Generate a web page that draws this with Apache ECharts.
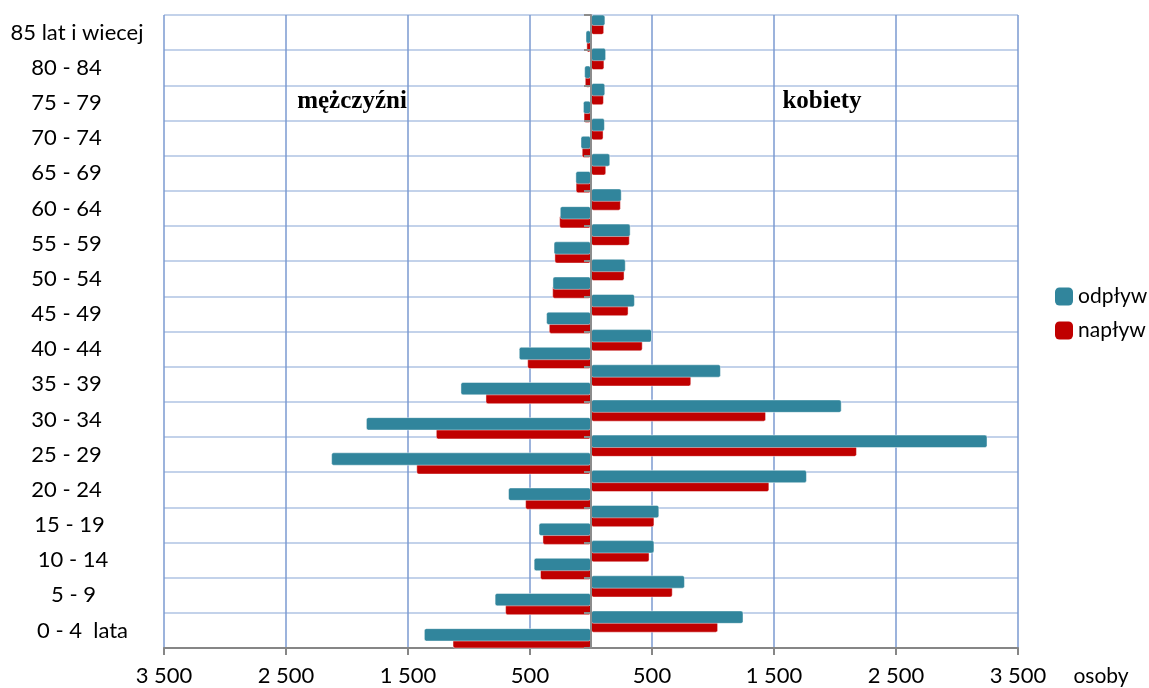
<!DOCTYPE html>
<html><head><meta charset="utf-8">
<script src="https://cdn.jsdelivr.net/npm/echarts@6/dist/echarts.min.js"></script>
<style>html,body{margin:0;padding:0;background:#fff}#c{width:1149px;height:688px}</style>
</head><body><div id="c"></div>
<script>
// Age groups, bottom to top
const categories = ['0 - 4  lata','5 - 9','10 - 14','15 - 19','20 - 24','25 - 29','30 - 34','35 - 39','40 - 44','45 - 49','50 - 54','55 - 59','60 - 64','65 - 69','70 - 74','75 - 79','80 - 84','85 lat i wiecej'];
// kobiety (right side)
const womenOutflow = [1250, 770, 520, 560, 1770, 3250, 2055, 1065, 500, 360, 285, 325, 252, 158, 114, 117, 124, 118];
const womenInflow  = [1042, 670, 480, 520, 1462, 2180, 1435, 822, 424, 308, 275, 318, 245, 125, 103, 106, 110, 108];
// mężczyźni (left side, shown as negative)
const menOutflow   = [1370, 790, 470, 430, 680, 2130, 1845, 1070, 592, 368, 316, 307, 256, 128, 86, 66, 56, 45];
const menInflow    = [1135, 704, 418, 398, 540, 1432, 1272, 865, 523, 346, 318, 300, 261, 126, 76, 61, 51, 38];
const xTickLabels  = ['3 500','2 500','1 500','500','500','1 500','2 500','3 500'];
const legendNames  = ['odpływ','napływ'];

// label alignment style keys (style only)
const labelStyleKeys = ['L11','R7','R8','R15','R21','R21','R21','R21','R21','R21','R21','R21','R21','R21','R21','R21','R21','N'];
const LABEL_FONT = {fontFamily: 'Lato', fontSize: 22, color: '#000'};
function rs(pad) { return Object.assign({padding: pad}, LABEL_FONT); }
const labelRich = {N: rs([0,0,0,0]), L11: rs([0,0,0,11]), R7: rs([0,7,0,0]), R8: rs([0,8,0,0]), R15: rs([0,15,0,0]), R21: rs([0,21,0,0])};

const TEAL = '#31859C', RED = '#C00000';
const chart = echarts.init(document.getElementById('c'), null, {renderer:'canvas'});

function barSeries(name, data, color, z) {
  return {
    name: name, type: 'bar', xAxisIndex: 0, yAxisIndex: 0, data: data,
    barWidth: 13.4, barGap: '-34%', z: z,
    itemStyle: {color: color, borderRadius: 2, borderColor: 'rgba(255,255,255,0.45)', borderWidth: 1},
    emphasis: {disabled: true}
  };
}

chart.setOption({
  animation: false,
  grid: {left: 164, right: 131, top: 15, bottom: 40, containLabel: false, outerBoundsMode: 'none'},
  legend: {
    data: legendNames, orient: 'vertical', left: 1050, top: 281,
    itemWidth: 18, itemHeight: 18, itemGap: 13, icon: 'roundRect',
    itemStyle: {borderWidth: 0},
    textStyle: {fontFamily: 'Lato', fontSize: 21, color: '#000'}
  },
  xAxis: [
    {type: 'value', min: -3500, max: 3500, show: false, position: 'top'},
    {type: 'value', min: 0, max: 7000, interval: 1000, position: 'bottom',
     axisLine: {show: true, onZero: false, lineStyle: {color: '#868686', width: 2}},
     axisTick: {show: true, length: 7, lineStyle: {color: '#868686', width: 2}},
     axisLabel: {formatter: function (v) { return xTickLabels[Math.round(v / 1000)]; },
                 margin: 17, fontFamily: 'Lato', fontSize: 22, color: '#000'},
     splitLine: {show: true, lineStyle: {color: '#7B9AD0', width: 1.5}}}
  ],
  yAxis: [
    {type: 'category', position: 'left', data: categories,
     axisLine: {show: false, onZero: false}, axisTick: {show: false},
     splitLine: {show: true, interval: 0, lineStyle: {color: '#AFC3E3', width: 1.5}},
     axisLabel: {interval: 0, align: 'center', margin: 87, fontFamily: 'Lato', fontSize: 22, color: '#000',
                 formatter: function (v, i) { return '{' + labelStyleKeys[i] + '|' + v + '}'; },
                 rich: labelRich}},
    {type: 'category', data: categories, position: 'left', z: 10,
     axisLine: {show: true, onZero: true, onZeroAxisIndex: 0, lineStyle: {color: '#8C8C8C', width: 2}},
     axisTick: {show: true, interval: 0, length: 7, lineStyle: {color: '#8C8C8C', width: 2}},
     axisLabel: {show: false}, splitLine: {show: false}}
  ],
  graphic: [
    {type: 'text', x: 352, y: 102, style: {text: 'mężczyźni', font: 'bold 25px "Liberation Serif"', align: 'center', verticalAlign: 'middle', fill: '#000'}},
    {type: 'text', x: 822, y: 102, style: {text: 'kobiety', font: 'bold 25px "Liberation Serif"', align: 'center', verticalAlign: 'middle', fill: '#000'}},
    {type: 'text', x: 1101, y: 676, style: {text: 'osoby', font: '21px Lato', align: 'center', verticalAlign: 'middle', fill: '#000'}}
  ],
  series: [
    barSeries('odpływ', womenOutflow, TEAL, 3),
    barSeries('napływ', womenInflow, RED, 2),
    barSeries('odpływ', menOutflow.map(function (v) { return -v; }), TEAL, 3),
    barSeries('napływ', menInflow.map(function (v) { return -v; }), RED, 2)
  ]
});
</script>
</body></html>
